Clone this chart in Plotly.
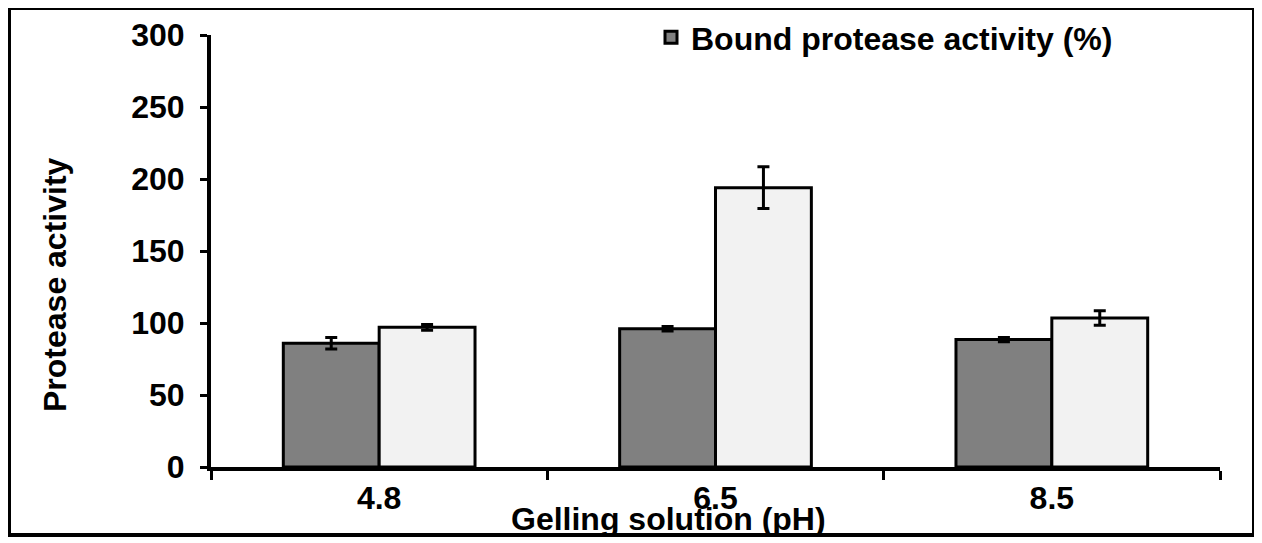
import plotly.graph_objects as go

categories = ["4.8", "6.5", "8.5"]
bound_activity = [86, 96, 88.5]
bound_error = [4, 1.5, 1.5]
second_activity = [97, 194, 103.5]
second_error = [2, 14.5, 5]
y_ticks = [0, 50, 100, 150, 200, 250, 300]

# page body has an 8px margin; work in reference pixel coords and shift
OFF = 8
W, H = 1262 - OFF, 543 - OFF
L, R, T, B = 211 - OFF, 42, 35 - OFF, 76
pw, ph = W - L - R, H - T - B


def px(x):
    return (x - OFF - L) / pw


def py(y):
    return 1 - (y - OFF - T) / ph


FONT = dict(family="Arial, Liberation Sans, sans-serif", size=32, color="black", weight="bold")

fig = go.Figure()
fig.add_trace(go.Bar(
    x=categories, y=bound_activity, name="Bound protease activity (%)",
    marker=dict(color="#808080", line=dict(color="black", width=3)),
    error_y=dict(type="data", array=bound_error, color="black", thickness=3, width=6),
))
fig.add_trace(go.Bar(
    x=categories, y=second_activity, name="Protease activity", showlegend=False,
    marker=dict(color="#F2F2F2", line=dict(color="black", width=3)),
    error_y=dict(type="data", array=second_error, color="black", thickness=3, width=6),
))

fig.update_layout(
    width=W, height=H,
    margin=dict(l=L, r=R, t=T, b=B, pad=0, autoexpand=False),
    paper_bgcolor="white", plot_bgcolor="white",
    barmode="group", bargap=0.43, bargroupgap=0,
    font=FONT,
    showlegend=True,
    legend=dict(x=px(651), y=py(10), xanchor="left", yanchor="top",
                bgcolor="rgba(0,0,0,0)", font=FONT, itemwidth=30),
    xaxis=dict(type="category", showline=True, linecolor="black", linewidth=4,
               ticks="outside", tickson="boundaries", ticklen=9, tickwidth=3, tickcolor="black",
               showgrid=False, zeroline=False, ticklabelstandoff=0, tickfont=FONT,
               automargin=False),
    yaxis=dict(range=[0, 300], tickvals=y_ticks, showline=True, linecolor="black", linewidth=4,
               ticks="outside", ticklen=7, tickwidth=3, tickcolor="black",
               showgrid=False, zeroline=False, ticklabelstandoff=9, tickfont=FONT,
               automargin=False),
    annotations=[
        dict(text="Gelling solution (pH)", xref="paper", yref="paper",
             x=px(668), y=py(519), xanchor="center", yanchor="middle",
             showarrow=False, font=FONT),
        dict(text="Protease activity", xref="paper", yref="paper", textangle=-90,
             x=px(55), y=py(285), xanchor="center", yanchor="middle",
             showarrow=False, font=FONT),
    ],
    shapes=[dict(type="rect", xref="paper", yref="paper",
                 x0=px(9), x1=px(1254), y0=py(8), y1=py(535),
                 line=dict(color="black", width=4), layer="above")],
)

fig.write_html("out.html")
